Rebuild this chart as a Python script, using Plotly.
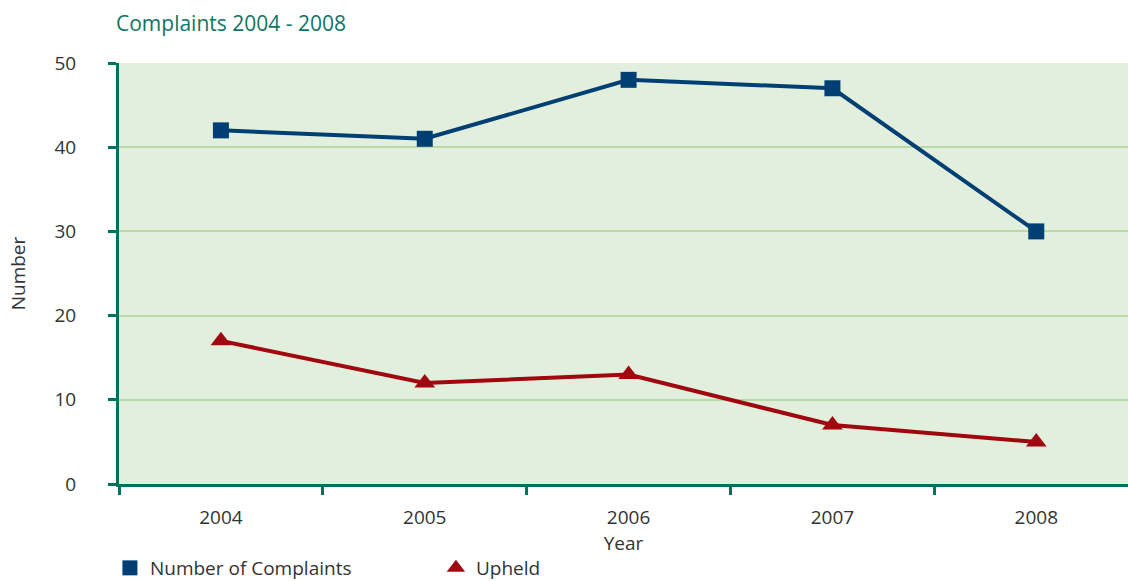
import plotly.graph_objects as go

years = ["2004", "2005", "2006", "2007", "2008"]
complaints = [42, 41, 48, 47, 30]
upheld = [17, 12, 13, 7, 5]
y_ticks = [0, 10, 20, 30, 40, 50]

teal = "#00705F"
blue = "#003F73"
red = "#A0080F"
fontfam = "Open Sans, Noto Sans, sans-serif"

fig = go.Figure()
fig.add_trace(go.Scatter(
    x=years, y=complaints, name="Number of Complaints", mode="lines+markers",
    line=dict(color=blue, width=4),
    marker=dict(symbol="square", size=16, color=blue), showlegend=False,
))
fig.add_trace(go.Scatter(
    x=years, y=upheld, name="Upheld", mode="lines+markers",
    line=dict(color=red, width=4),
    marker=dict(symbol="triangle-up", size=18, color=red), showlegend=False,
))
# legend entries (marker only)
fig.add_trace(go.Scatter(x=[None], y=[None], name="Number of Complaints", mode="markers",
                         marker=dict(symbol="square", size=15, color=blue)))
fig.add_trace(go.Scatter(x=[None], y=[None], name="Upheld", mode="markers",
                         marker=dict(symbol="triangle-up", size=17, color=red)))

fig.update_layout(
    width=1128, height=581,
    margin=dict(l=119, r=0, t=63, b=97, autoexpand=False),
    paper_bgcolor="white",
    plot_bgcolor="#E3EFDD",
    font=dict(family=fontfam, size=19, color="#333333"),
    title=dict(text="Complaints 2004 - 2008", x=116/1128, xanchor="left",
               y=1-24/581, yanchor="middle",
               font=dict(size=21, color="#0E7565", family=fontfam)),
    showlegend=True,
    legend=dict(orientation="h", x=-0.009, xanchor="left",
                y=(484-568)/421, yanchor="middle",
                font=dict(size=19, color="#333333"), itemwidth=30,
                traceorder="normal", entrywidthmode="pixels", entrywidth=281),
    xaxis=dict(
        type="category", range=[-0.5, 4.45], tickson="boundaries",
        showline=True, linecolor=teal, linewidth=3,
        ticks="outside", ticklen=8, tickwidth=3, tickcolor=teal,
        showgrid=False, zeroline=False,
        ticklabelstandoff=14,
        title=dict(text="Year", standoff=8, font=dict(size=19)),
        tickfont=dict(size=19),
    ),
    yaxis=dict(
        range=[0, 50], tickvals=y_ticks,
        showline=True, linecolor=teal, linewidth=3,
        ticks="outside", ticklen=8, tickwidth=3, tickcolor=teal,
        showgrid=True, gridcolor="#B8DBA6", gridwidth=1.5,
        zeroline=False,
        ticklabelstandoff=28,
        title=dict(text="Number", standoff=24, font=dict(size=19)),
        tickfont=dict(size=19),
    ),
)

fig.write_html("out.html")
